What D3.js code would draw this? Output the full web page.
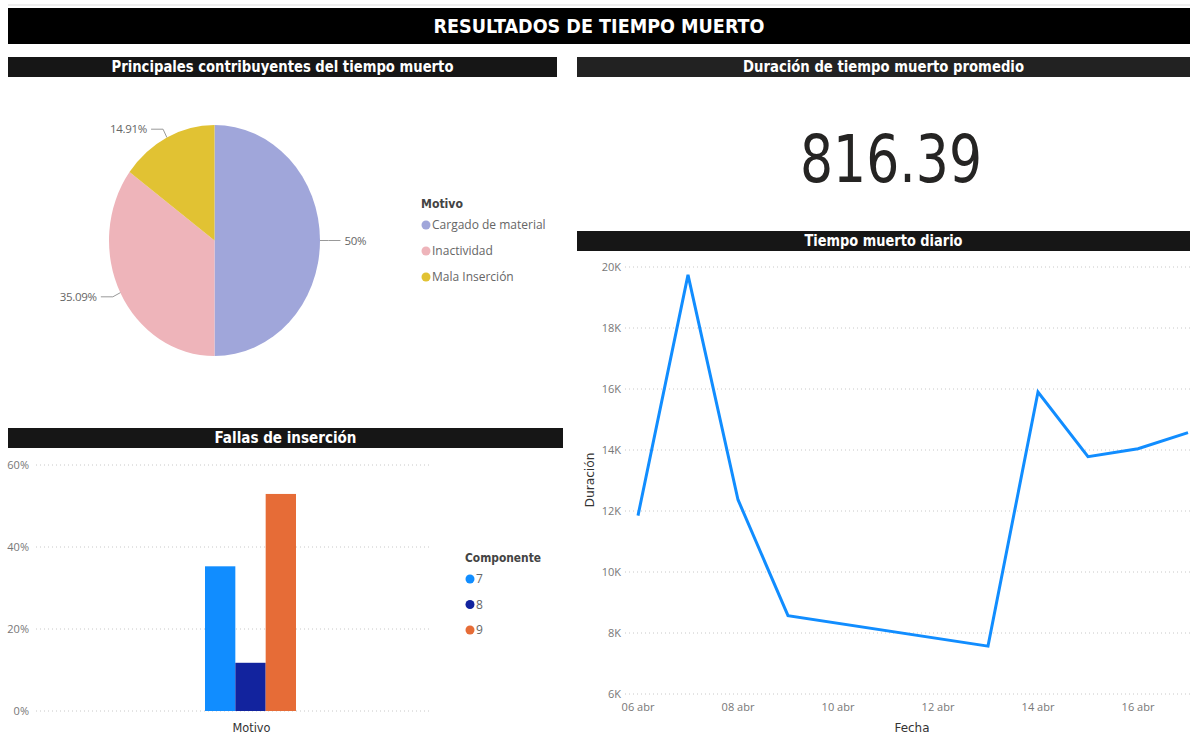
<!DOCTYPE html>
<html><head><meta charset="utf-8">
<script src="https://cdn.jsdelivr.net/npm/d3@7"></script>
<style>body{margin:0;background:#fff;} svg{display:block}</style>
</head><body><svg id="c" width="1190" height="734"></svg>
<script>
// ---------- data ----------
const pieCategories = ["Cargado de material", "Inactividad", "Mala Inserción"];
const pieValues = [50, 35.09, 14.91];
const pieLabels = ["50%", "35.09%", "14.91%"];
const pieColors = ["#A0A6DA", "#EEB4BA", "#E1C233"];

const barCategories = ["Motivo"];
const barComponents = ["7", "8", "9"];
const barValues = [35.29, 11.76, 52.94];
const barColors = ["#118DFF", "#12239E", "#E66C37"];
const barTicks = [0, 20, 40, 60];

const lineDates = ["2021-04-06", "2021-04-07", "2021-04-08", "2021-04-09", "2021-04-13", "2021-04-14", "2021-04-15", "2021-04-16", "2021-04-17"];
const lineValues = [11850, 19740, 12370, 8570, 7570, 15900, 13780, 14040, 14570];
const lineTicks = [6000, 8000, 10000, 12000, 14000, 16000, 18000, 20000];
const lineTickDates = ["2021-04-06", "2021-04-08", "2021-04-10", "2021-04-12", "2021-04-14", "2021-04-16"];
const monthsEs = ["ene", "feb", "mar", "abr", "may", "jun", "jul", "ago", "sep", "oct", "nov", "dic"];

const kpiValue = 816.39;

const titles = {
  main: "RESULTADOS DE  TIEMPO MUERTO",
  pie: "Principales contribuyentes del tiempo muerto",
  kpi: "Duración de tiempo muerto promedio",
  bar: "Fallas de inserción",
  line: "Tiempo muerto diario"
};

// ---------- setup ----------
const svg = d3.select("#c");
const condensed = "'Liberation Sans Narrow','DejaVu Sans Condensed','Roboto Condensed','Arial Narrow',sans-serif";
const ui = "'Segoe UI','Open Sans','Noto Sans',sans-serif";
const gray = "#666";

function titleBar(x, y, w, h, fill, text, size, tl) {
  svg.append("rect").attr("x", x).attr("y", y).attr("width", w).attr("height", h).attr("fill", fill);
  svg.append("text").attr("x", x + w / 2).attr("y", y + h / 2).attr("dy", "0.36em")
    .attr("text-anchor", "middle").attr("fill", "#fff")
    .attr("font-family", condensed).attr("font-weight", "bold").attr("font-size", size)
    .attr("textLength", tl).attr("lengthAdjust", "spacingAndGlyphs")
    .text(text);
}
function condText(g, x, y, text, size, tl, bold, anchor) {
  return g.append("text").attr("x", x).attr("y", y).attr("dy", "0.35em")
    .attr("text-anchor", anchor || "start").attr("font-family", condensed)
    .attr("font-weight", bold ? "bold" : "normal").attr("font-size", size).attr("fill", bold ? "#444" : "#333")
    .attr("textLength", tl).attr("lengthAdjust", "spacingAndGlyphs").text(text);
}

svg.append("line").attr("x1", 8).attr("x2", 1190).attr("y1", 5).attr("y2", 5).attr("stroke", "#ddd");
titleBar(8, 8, 1182, 36, "#000", titles.main, 20, 331);
titleBar(8, 57, 549, 20, "#161616", titles.pie, 15, 342);
titleBar(577, 57, 613, 20, "#222", titles.kpi, 15, 281);
titleBar(8, 428, 555, 20, "#161616", titles.bar, 15, 142);
titleBar(577, 231, 613, 20, "#161616", titles.line, 15, 158);

// ---------- pie ----------
const cx = 214.5, cy = 240.5, ry = 115.5, rx = 105.5;
const sx = rx / ry;
const pie = d3.pie().sort(null)(pieValues);
const arc = d3.arc().innerRadius(0).outerRadius(ry);
const pg = svg.append("g").attr("transform", `translate(${cx},${cy}) scale(${sx},1)`);
pg.selectAll("path").data(pie).join("path").attr("d", arc).attr("fill", (d, i) => pieColors[i]);

pie.forEach((d, i) => {
  const a = (d.startAngle + d.endAngle) / 2;
  const s = Math.sin(a), c = -Math.cos(a);
  const p1 = [cx + s * rx, cy + c * ry];
  const p2 = [cx + s * rx * 1.08, cy + c * ry * 1.08];
  const dir = s >= 0 ? 1 : -1;
  const p3 = [p2[0] + dir * 12, p2[1]];
  svg.append("polyline").attr("points", [p1, p2, p3].map(p => p.join(",")).join(" "))
    .attr("fill", "none").attr("stroke", "#999").attr("stroke-width", 1);
  svg.append("text").attr("x", p3[0] + dir * 4).attr("y", p3[1]).attr("dy", "0.35em")
    .attr("text-anchor", dir > 0 ? "start" : "end")
    .attr("font-family", ui).attr("font-size", 11.5).attr("fill", gray).attr("letter-spacing", -0.3)
    .text(pieLabels[i]);
});

const pl = svg.append("g").attr("transform", "translate(421,0)");
condText(pl, 0, 203, "Motivo", 13, 42, true);
pieCategories.forEach((c, i) => {
  const y = 225 + i * 26;
  pl.append("circle").attr("cx", 5).attr("cy", y).attr("r", 4.5).attr("fill", pieColors[i]);
  pl.append("text").attr("x", 11).attr("y", y).attr("dy", "0.35em").attr("font-family", ui)
    .attr("font-size", 12).attr("fill", gray).text(c);
});

// ---------- KPI ----------
svg.append("text").attr("x", 891).attr("y", 182).attr("text-anchor", "middle")
  .attr("font-family", "'DejaVu Sans','Liberation Sans',sans-serif").attr("font-size", 66).attr("fill", "#252423")
  .attr("textLength", 182).attr("lengthAdjust", "spacingAndGlyphs")
  .text(d3.format(".2f")(kpiValue));

// ---------- bar chart ----------
const by = d3.scaleLinear().domain([0, 60]).range([711, 465]);
const bx0 = d3.scaleBand().domain(barCategories).range([205, 296]);
const bx1 = d3.scaleBand().domain(barComponents).range([0, bx0.bandwidth()]);
const bg = svg.append("g");
barTicks.forEach(t => {
  bg.append("line").attr("x1", 36).attr("x2", 432).attr("y1", by(t)).attr("y2", by(t))
    .attr("stroke", "#c8c8c8").attr("stroke-dasharray", "1,3");
  bg.append("text").attr("x", 29).attr("y", by(t)).attr("dy", "0.35em").attr("text-anchor", "end")
    .attr("font-family", ui).attr("font-size", 11).attr("fill", "#777").text(t + "%");
});
barCategories.forEach(cat => {
  barComponents.forEach((comp, j) => {
    bg.append("rect").attr("x", bx0(cat) + bx1(comp)).attr("width", bx1.bandwidth())
      .attr("y", by(barValues[j])).attr("height", by(0) - by(barValues[j])).attr("fill", barColors[j]);
  });
  condText(bg, bx0(cat) + bx0.bandwidth() / 2 + 1, 727, cat, 13, 38, false, "middle");
});
const bl = svg.append("g").attr("transform", "translate(465,0)");
condText(bl, 0, 557, "Componente", 13, 76, true);
barComponents.forEach((c, i) => {
  const y = 579 + i * 25.5;
  bl.append("circle").attr("cx", 5).attr("cy", y).attr("r", 4.5).attr("fill", barColors[i]);
  bl.append("text").attr("x", 11).attr("y", y).attr("dy", "0.35em").attr("font-family", ui)
    .attr("font-size", 12).attr("fill", gray).text(c);
});

// ---------- line chart ----------
const parse = d3.timeParse("%Y-%m-%d");
const dates = lineDates.map(parse);
const lx = d3.scaleTime().domain([parse("2021-04-06"), parse("2021-04-16")]).range([638, 1138]);
const ly = d3.scaleLinear().domain([6000, 20000]).range([694, 267]);
const lg = svg.append("g");
lineTicks.forEach(t => {
  lg.append("line").attr("x1", 625).attr("x2", 1190).attr("y1", ly(t)).attr("y2", ly(t))
    .attr("stroke", "#c8c8c8").attr("stroke-dasharray", "1,3");
  lg.append("text").attr("x", 621).attr("y", ly(t)).attr("dy", "0.35em").attr("text-anchor", "end")
    .attr("font-family", ui).attr("font-size", 11).attr("fill", "#777").text(d3.format("d")(t / 1000) + "K");
});
const fmtDay = d3.timeFormat("%d");
lineTickDates.map(parse).forEach(t => {
  lg.append("text").attr("x", lx(t)).attr("y", 707).attr("dy", "0.35em").attr("text-anchor", "middle")
    .attr("font-family", ui).attr("font-size", 11).attr("fill", "#777")
    .text(fmtDay(t) + " " + monthsEs[t.getMonth()]);
});
const line = d3.line().x((d, i) => lx(dates[i])).y(d => ly(d));
lg.append("path").attr("d", line(lineValues)).attr("fill", "none").attr("stroke", "#118DFF")
  .attr("stroke-width", 3).attr("stroke-linejoin", "miter");
condText(lg, 912, 727, "Fecha", 13, 35, false, "middle");
condText(lg, 0, 0, "Duración", 13, 55, false, "middle").attr("transform", "translate(589,480) rotate(-90)");
</script></body></html>
